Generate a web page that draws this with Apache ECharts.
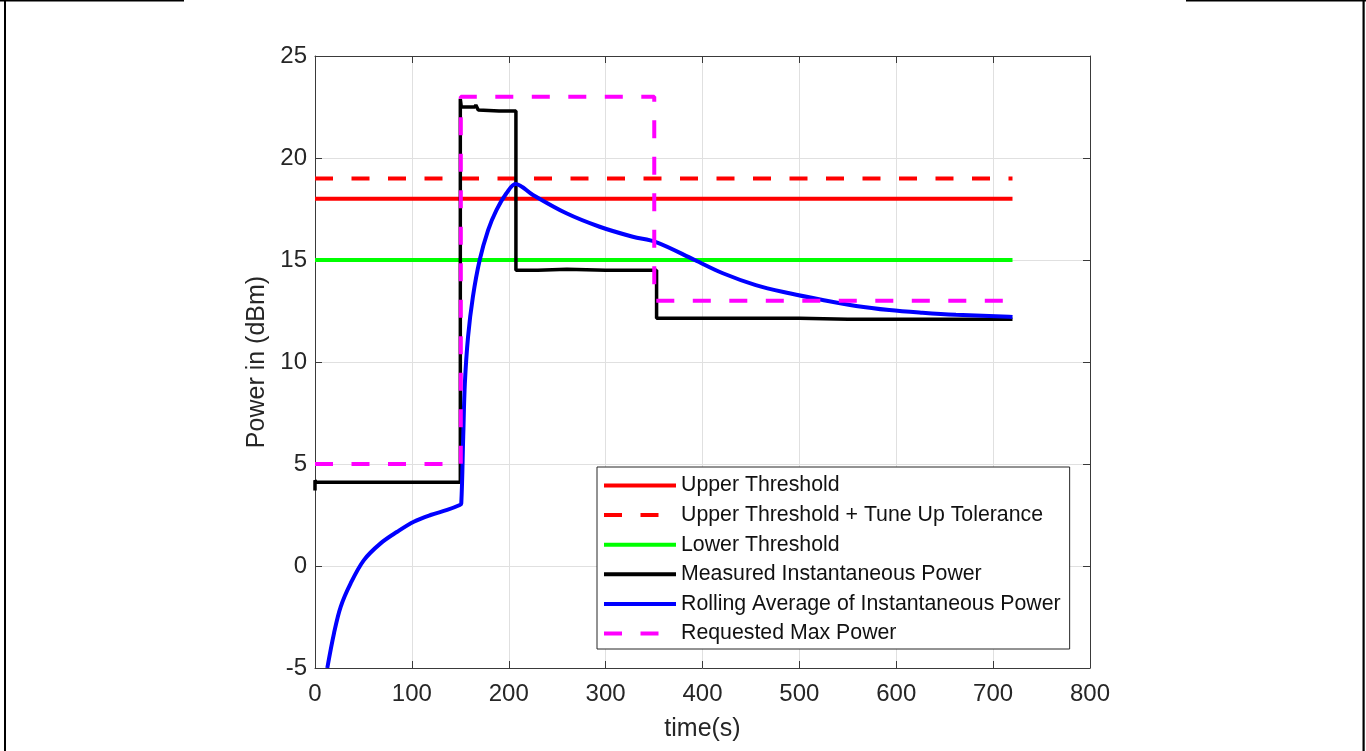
<!DOCTYPE html>
<html>
<head>
<meta charset="utf-8">
<script src="https://cdn.jsdelivr.net/npm/echarts@6/dist/echarts.min.js"></script>
<style>
  html, body { margin: 0; padding: 0; background: #ffffff; }
  #chart { width: 1366px; height: 751px; }
</style>
</head>
<body>
<div id="chart"></div>
<script>
// ---- data ----
const seriesNames = [
  'Upper Threshold',
  'Upper Threshold + Tune Up Tolerance',
  'Lower Threshold',
  'Measured Instantaneous Power',
  'Rolling Average of Instantaneous Power',
  'Requested Max Power'
];
const xTicks = [0, 100, 200, 300, 400, 500, 600, 700, 800];
const yTicks = [-5, 0, 5, 10, 15, 20, 25];

const thresholdT = [0, 720];
const upperThreshold = [18, 18];
const upperTolerance = [19, 19];
const lowerThreshold = [15, 15];

const measuredT = [0, 0, 1, 40, 80, 120, 150, 150, 151, 165, 166, 167.5, 168.5, 190, 207.4, 207.4, 230, 260, 300, 330, 352.6, 352.6, 400, 450, 500, 501, 550, 600, 650, 700, 720];
const measuredP = [3.7, 4.2, 4.1, 4.1, 4.1, 4.1, 4.1, 22.9, 22.5, 22.5, 22.6, 22.6, 22.35, 22.3, 22.3, 14.5, 14.5, 14.55, 14.5, 14.5, 14.5, 12.15, 12.15, 12.15, 12.15, 12.1, 12.1, 12.1, 12.1, 12.1, 12.1];

const rollingT = [12.7, 19.6, 26.5, 36.8, 50.5, 67.7, 84.9, 102, 119.3, 136.4, 149.5, 151, 153, 154.7, 158, 163, 170, 178.7, 187.3, 197.6, 207, 225, 259.5, 293.8, 328, 352, 392, 421, 455, 489.7, 524, 558.5, 592.8, 627, 661.6, 716.5, 720];
const rollingP = [-5.0, -3.3, -2.0, -0.85, 0.29, 1.11, 1.68, 2.17, 2.5, 2.75, 2.99, 3.07, 6.34, 8.96, 11.24, 13.2, 15.0, 16.47, 17.45, 18.27, 18.73, 18.19, 17.29, 16.63, 16.14, 15.88, 15.0, 14.35, 13.77, 13.37, 13.04, 12.75, 12.55, 12.42, 12.32, 12.22, 12.21];

const requestedT = [0, 150.5, 150.5, 350.2, 350.2, 720];
const requestedP = [5, 5, 23, 23, 13, 13];

// ---- build ----
function zip(t, v) { return t.map((x, i) => [x, v[i]]); }
const FONT = "'Liberation Sans', Arial, Helvetica, sans-serif";
const TXT = '#262626';
const AX = '#3a3a3a';
const DASH = [18, 18.5];

const chart = echarts.init(document.getElementById('chart'), null, { renderer: 'canvas' });

function lineSeries(name, data, color, width, type, z) {
  return {
    name: name, type: 'line', data: data,
    xAxisIndex: 0, yAxisIndex: 0,
    showSymbol: false, symbol: 'none',
    lineStyle: { color: color, width: width, type: type },
    itemStyle: { color: color },
    animation: false, z: z, clip: true
  };
}

const option = {
  backgroundColor: '#ffffff',
  animation: false,
  textStyle: { fontFamily: FONT },
  grid: { left: 315, right: 276, top: 56, bottom: 83, outerBoundsMode: 'none', containLabel: false },
  xAxis: [{
    type: 'value', min: xTicks[0], max: xTicks[xTicks.length - 1], interval: 100,
    position: 'bottom',
    name: 'time(s)', nameLocation: 'middle', nameGap: 49,
    nameTextStyle: { fontSize: 25, color: TXT, fontFamily: FONT },
    axisLine: { show: true, onZero: false, lineStyle: { color: AX, width: 1 } },
    axisTick: { show: true, inside: true, length: 7, lineStyle: { color: AX } },
    axisLabel: { fontSize: 24, color: TXT, margin: 14, fontFamily: FONT },
    splitLine: { show: true, lineStyle: { color: '#e0e0e0', width: 1 } }
  }, {
    type: 'value', min: xTicks[0], max: xTicks[xTicks.length - 1], interval: 100,
    position: 'top',
    axisLine: { show: true, onZero: false, lineStyle: { color: AX, width: 1 } },
    axisTick: { show: true, inside: true, length: 7, lineStyle: { color: AX } },
    axisLabel: { show: false },
    splitLine: { show: false }
  }],
  yAxis: [{
    type: 'value', min: yTicks[0], max: yTicks[yTicks.length - 1], interval: 5,
    position: 'left',
    name: 'Power in (dBm)', nameLocation: 'middle', nameGap: 44,
    nameTextStyle: { fontSize: 25, color: TXT, fontFamily: FONT },
    axisLine: { show: true, onZero: false, lineStyle: { color: AX, width: 1 } },
    axisTick: { show: true, inside: true, length: 7, lineStyle: { color: AX } },
    axisLabel: { fontSize: 24, color: TXT, margin: 8, fontFamily: FONT },
    splitLine: { show: true, lineStyle: { color: '#e0e0e0', width: 1 } }
  }, {
    type: 'value', min: yTicks[0], max: yTicks[yTicks.length - 1], interval: 5,
    position: 'right',
    axisLine: { show: true, onZero: false, lineStyle: { color: AX, width: 1 } },
    axisTick: { show: true, inside: true, length: 7, lineStyle: { color: AX } },
    axisLabel: { show: false },
    splitLine: { show: false }
  }],
  legend: {
    orient: 'vertical',
    left: 597, top: 467,
    padding: [8, 9, 5, 5],
    itemGap: 8.6,
    itemWidth: 72, itemHeight: 22,
    itemTextGap: 6,
    backgroundColor: '#ffffff',
    borderColor: '#262626', borderWidth: 1, borderRadius: 0,
    textStyle: { fontSize: 21.3, color: '#111', fontFamily: FONT },
    lineStyle: { width: 4 },
    itemStyle: { color: 'rgba(0,0,0,0)', borderWidth: 0, opacity: 0 },
    data: seriesNames,
    selectedMode: false
  },
  series: [
    lineSeries(seriesNames[0], zip(thresholdT, upperThreshold), '#ff0000', 4, 'solid', 2),
    lineSeries(seriesNames[1], zip(thresholdT, upperTolerance), '#ff0000', 4, DASH, 3),
    lineSeries(seriesNames[2], zip(thresholdT, lowerThreshold), '#00ff00', 4, 'solid', 4),
    lineSeries(seriesNames[3], zip(measuredT, measuredP), '#000000', 3.5, 'solid', 5),
    Object.assign(lineSeries(seriesNames[4], zip(rollingT, rollingP), '#0000ff', 4, 'solid', 6), { smooth: 0.35 }),
    lineSeries(seriesNames[5], zip(requestedT, requestedP), '#ff00ff', 4, DASH, 7)
  ],
  graphic: [
    { type: 'rect', shape: { x: 0, y: 0, width: 184, height: 1.6 }, style: { fill: '#000' }, silent: true },
    { type: 'rect', shape: { x: 4, y: 0, width: 2, height: 751 }, style: { fill: '#000' }, silent: true },
    { type: 'rect', shape: { x: 1186, y: 0, width: 180, height: 1.6 }, style: { fill: '#000' }, silent: true },
    { type: 'rect', shape: { x: 1362.5, y: 0, width: 2.2, height: 751 }, style: { fill: '#000' }, silent: true }
  ]
};
chart.setOption(option);
</script>
</body>
</html>
